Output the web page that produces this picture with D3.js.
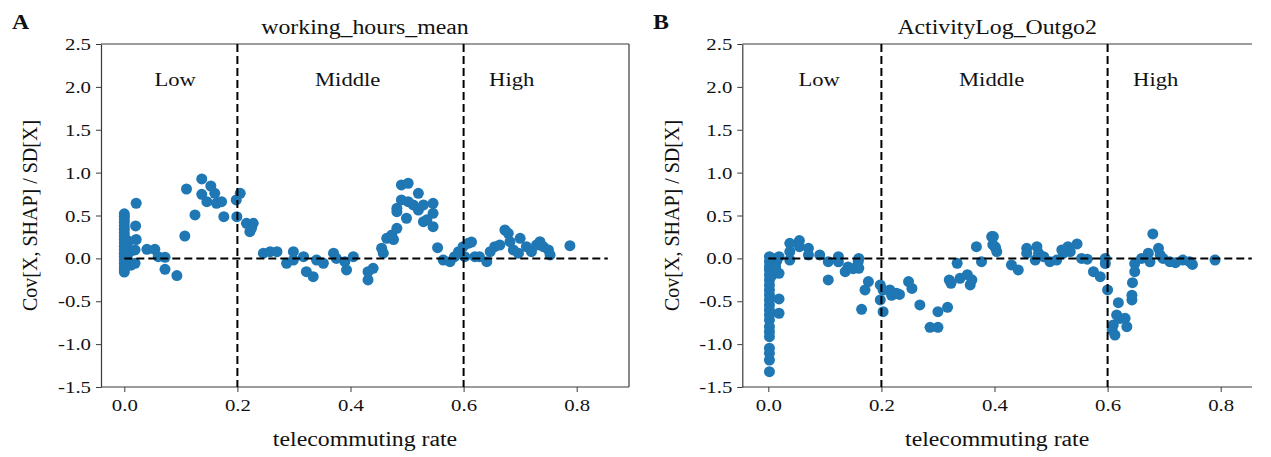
<!DOCTYPE html>
<html><head><meta charset="utf-8">
<script src="https://cdn.jsdelivr.net/npm/d3@7"></script>
<style>body{margin:0;background:#fff}svg{display:block}text{font-family:"Liberation Serif","Times New Roman",serif;fill:#111}</style>
</head><body><svg id="c" width="1271" height="457"></svg>
<script>
// ---- data ----
const panelTitles = ["working_hours_mean", "ActivityLog_Outgo2"];
const panelLetters = ["A", "B"];
const regionNames = ["Low", "Middle", "High"];
const regionCenters = [0.09, 0.395, 0.685];
const cutoffs = [0.2, 0.6];
const xTicks = [0.0, 0.2, 0.4, 0.6, 0.8];
const yTicks = [2.5, 2.0, 1.5, 1.0, 0.5, 0.0, -0.5, -1.0, -1.5];
const xLabel = "telecommuting rate";
const yLabel = "Cov[X, SHAP] / SD[X]";

const aX = [0,0,0,0,0,0,0,0,0,0,0,0,0,0,0,0,0,0,0,0.004,0.005,0.006,0.008,0.01,0.012,
  0.021,0.02,0.021,0.019,0.019,0.040,0.054,0.06,0.072,0.072,0.093,0.107,0.125,0.110,0.137,0.137,0.146,0.153,0.16,0.163,0.172,0.176,
  0.198,0.205,0.199,0.216,0.228,0.222,0.225,0.246,0.258,0.27,0.287,0.299,0.299,0.317,0.322,0.334,0.34,0.352,0.37,0.375,0.39,0.393,0.405,
  0.431,0.431,0.44,0.455,0.458,0.464,0.473,0.476,0.482,0.482,0.482,0.49,0.49,0.502,0.499,0.502,0.511,0.52,0.52,0.529,0.529,0.535,0.546,0.546,0.546,
  0.554,0.564,0.576,0.584,0.591,0.599,0.608,0.614,0.602,0.62,0.628,0.641,0.647,0.655,0.664,0.673,0.679,0.682,0.688,0.697,0.7,0.711,0.72,0.729,0.735,0.741,0.75,0.753,0.788];
const aY = [0.52,0.49,0.46,0.42,0.38,0.34,0.30,0.26,0.22,0.18,0.14,0.10,0.06,0.02,-0.02,-0.06,-0.10,-0.13,-0.16,0.12,0.03,-0.04,0.2,0.08,-0.08,
  0.643,0.378,0.22,0.098,-0.057,0.106,0.106,0.02,0.013,-0.127,-0.2,0.261,0.506,0.809,0.926,0.747,0.661,0.844,0.759,0.642,0.661,0.486,
  0.681,0.759,0.486,0.409,0.409,0.311,0.35,0.06,0.078,0.078,-0.057,0.078,-0.02,0.02,-0.155,-0.213,-0.019,-0.057,0.06,0.0,-0.038,-0.135,0.02,
  -0.155,-0.252,-0.116,0.118,0.06,0.234,0.273,0.22,0.351,0.545,0.584,0.681,0.856,0.876,0.468,0.661,0.623,0.759,0.564,0.623,0.428,0.45,0.642,0.525,0.37,
  0.125,-0.019,-0.038,0.02,0.078,0.137,0.176,0.19,0.02,0.02,0.02,-0.038,0.078,0.137,0.156,0.331,0.292,0.195,0.098,0.06,0.234,0.137,0.078,0.156,0.195,0.137,0.098,0.04,0.148];

const bX = [0.002,0.002,0.002,0.002,0.002,0.002,0.002,0.002,0.002,0.002,0.002,0.002,0.002,0.002,0.002,0.002,0.002,0.002,0.002,0.002,0.002,
  0.008,0.01,0.012,0.006,0.015,
  0.019,0.019,0.019,0.019,0.013,0.038,0.038,0.038,0.055,0.055,0.071,0.071,0.091,0.106,0.106,0.124,0.124,0.136,0.141,0.15,0.159,0.16,0.16,0.165,0.171,0.177,
  0.198,0.198,0.203,0.203,0.215,0.218,0.227,0.232,0.248,0.254,0.268,0.286,0.3,0.3,0.317,0.32,0.323,0.334,0.339,0.352,0.357,0.36,0.368,0.377,0.395,0.397,0.402,
  0.398,0.401,0.404,0.43,0.442,0.457,0.457,0.475,0.472,0.478,0.487,0.498,0.51,0.519,0.522,0.53,0.546,0.534,0.554,0.564,0.575,0.587,0.596,0.596,
  0.6,0.619,0.616,0.622,0.61,0.608,0.613,0.631,0.634,0.643,0.643,0.644,0.648,0.648,0.66,0.672,0.68,0.69,0.693,0.675,0.698,0.71,0.72,0.733,0.745,0.75,0.79];
const bY = [0.02,-0.038,-0.097,-0.135,-0.194,-0.252,-0.31,-0.368,-0.427,-0.485,-0.543,-0.602,-0.66,-0.718,-0.797,-0.855,-0.913,-1.048,-1.107,-1.185,-1.321,
  0.0,-0.05,-0.12,-0.2,-0.03,
  0.02,-0.174,-0.473,-0.64,-0.1,0.176,0.078,-0.019,0.207,0.137,0.117,0.04,0.04,-0.038,-0.252,0.02,-0.04,-0.155,-0.1,-0.12,-0.038,0.0,-0.115,-0.594,-0.368,-0.271,
  -0.31,-0.485,-0.621,-0.37,-0.368,-0.43,-0.407,-0.42,-0.271,-0.35,-0.543,-0.804,-0.804,-0.621,-0.571,-0.252,-0.29,-0.057,-0.232,-0.19,-0.31,-0.25,0.137,-0.038,0.254,0.16,0.12,
  0.254,0.137,0.08,-0.077,-0.135,0.117,0.06,0.137,-0.02,0.06,0.02,-0.038,-0.02,0.098,0.06,0.137,0.168,0.08,0.0,-0.01,-0.155,-0.213,0.0,-0.06,
  -0.368,-0.517,-0.66,-0.7,-0.777,-0.835,-0.894,-0.699,-0.796,-0.485,-0.43,-0.283,-0.155,-0.06,0.0,0.06,0.285,0.117,0.04,-0.04,0.0,-0.038,-0.05,-0.02,-0.038,-0.07,-0.019];

// ---- layout ----
const svg = d3.select("#c");
const SX = 1.19; // horizontal text stretch of the reference
const fmt = d => d.toFixed(1);
const panels = [
  {left:101, right:629, x0:124.3, x8:576.7, rightSpine:true, xs:aX, ys:aY, letterX:12, ylabX:30},
  {left:742.3, right:1252, x0:768.3, x8:1220.7, rightSpine:false, xs:bX, ys:bY, letterX:653, ylabX:672}
];
const yTop = 44, yBottom = 387;
const y = d3.scaleLinear().domain([-1.5, 2.5]).range([yBottom, yTop]);
const spine = "#3a3a3a";

function stretchedText(g, x, yy, str, size, anchor, weight) {
  return g.append("text").attr("transform", `translate(${x},${yy}) scale(${SX},1)`)
    .attr("text-anchor", anchor || "middle").attr("font-size", size)
    .attr("font-weight", weight || "normal").text(str);
}

panels.forEach((p, i) => {
  const x = d3.scaleLinear().domain([0, 0.8]).range([p.x0, p.x8]);
  const g = svg.append("g");
  const cx = (p.left + p.right) / 2;

  g.append("line").attr("x1", p.left).attr("x2", p.right).attr("y1", yTop).attr("y2", yTop).attr("stroke", spine).attr("stroke-width", 1.2);
  if (p.rightSpine) g.append("line").attr("x1", p.right).attr("x2", p.right).attr("y1", yTop).attr("y2", yBottom).attr("stroke", spine).attr("stroke-width", 1.2);

  const xa = g.append("g").attr("transform", `translate(0,${yBottom})`)
    .call(d3.axisBottom(x).tickValues(xTicks).tickFormat(fmt).tickSize(5).tickSizeOuter(0));
  xa.select(".domain").attr("d", `M${p.left},0H${p.right}`).attr("stroke", spine).attr("stroke-width", 1.2);
  xa.selectAll(".tick line").attr("stroke", spine);
  xa.selectAll(".tick text").attr("font-size", 17.5).attr("y", 11).attr("dy", "0.72em")
    .attr("font-family", "Liberation Serif").attr("transform", `scale(${SX},1)`).attr("fill", "#111");

  const ya = g.append("g").attr("transform", `translate(${p.left},0)`)
    .call(d3.axisLeft(y).tickValues(yTicks).tickFormat(fmt).tickSize(5).tickSizeOuter(0));
  ya.select(".domain").attr("stroke", spine).attr("stroke-width", 1.2);
  ya.selectAll(".tick line").attr("stroke", spine);
  ya.selectAll(".tick text").attr("font-size", 17.5).attr("x", -10 / SX)
    .attr("font-family", "Liberation Serif").attr("transform", `scale(${SX},1)`).attr("fill", "#111");

  g.append("g").selectAll("circle").data(p.xs.map((v, k) => [v, p.ys[k]])).join("circle")
    .attr("cx", d => x(d[0])).attr("cy", d => y(d[1])).attr("r", 5.5).attr("fill", "#1f77b4");

  const dash = "8,4";
  cutoffs.forEach(c => {
    g.append("line").attr("x1", x(c)).attr("x2", x(c)).attr("y1", yTop).attr("y2", yBottom)
      .attr("stroke", "#000").attr("stroke-width", 2).attr("stroke-dasharray", dash);
  });
  g.append("line").attr("x1", x(0)).attr("x2", x(0.855)).attr("y1", y(0)).attr("y2", y(0))
    .attr("stroke", "#000").attr("stroke-width", 2).attr("stroke-dasharray", dash);

  regionNames.forEach((n, k) => stretchedText(g, x(regionCenters[k]), 86, n, 19));

  stretchedText(g, cx, 34, panelTitles[i], 20);
  stretchedText(g, p.letterX, 29, panelLetters[i], 20, "start", "bold");
  stretchedText(g, cx, 446, xLabel, 20);
  g.append("text").attr("transform", `translate(${p.ylabX + 7},${(yTop + yBottom) / 2}) rotate(-90)`)
    .attr("text-anchor", "middle").attr("font-size", 20).text(yLabel);
});
</script></body></html>
